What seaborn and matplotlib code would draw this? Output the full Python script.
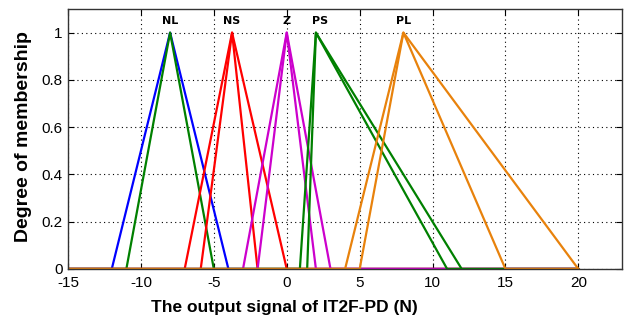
import numpy as np
import pandas as pd
import matplotlib
matplotlib.use("Agg")
import matplotlib.pyplot as plt
import seaborn as sns

# Fuzzy sets: (left foot, peak, right foot) for upper and lower MFs
labels = ["NL", "NS", "Z", "PS", "PL"]
upper_left = [-12, -7, -3, 0.9, 4]
upper_peak = [-8, -3.75, 0, 2, 8]
upper_right = [-4, 0, 3, 12, 20]
lower_left = [-11, -5.9, -2, 1.4, 5]
lower_peak = [-8, -3.75, 0, 2, 8]
lower_right = [-5, -2, 2, 11, 15]
upper_colors = ["#0000ff", "#ff0000", "#cc00cc", "#008000", "#e8820c"]
lower_colors = ["#008000", "#ff0000", "#cc00cc", "#008000", "#e8820c"]
label_x = [-8, -3.75, 0, 2.3, 8]
x_min, x_max = -15, 20

sns.set_style("white")
plt.rcParams['font.family'] = ['Liberation Sans', 'DejaVu Sans']
plt.rcParams['text.color'] = 'black'
plt.rcParams['axes.labelcolor'] = 'black'
plt.rcParams['xtick.color'] = 'black'
plt.rcParams['ytick.color'] = 'black'
plt.rcParams['axes.unicode_minus'] = False

fig = plt.figure(figsize=(6.24, 3.21), dpi=100)
ax = fig.add_axes([0.109, 0.162, 0.888, 0.81])

for i in range(len(labels)):
    for (l, p, r, c) in [(upper_left[i], upper_peak[i], upper_right[i], upper_colors[i]),
                         (lower_left[i], lower_peak[i], lower_right[i], lower_colors[i])]:
        df = pd.DataFrame({"x": [x_min, l, p, r, x_max], "y": [0, 0, 1, 0, 0]})
        sns.lineplot(data=df, x="x", y="y", ax=ax, color=c, linewidth=1.6,
                     sort=False, estimator=None)
    ax.text(label_x[i], 1.05, labels[i], ha="center", va="center",
            fontsize=8, fontweight="bold", family=['DejaVu Sans'])

ax.set_xlim(-15, 23)
ax.set_ylim(0, 1.1)
ax.set_xticks(np.arange(-15, 21, 5))
ax.set_yticks([0, 0.2, 0.4, 0.6, 0.8, 1])
ax.set_yticklabels(["0", "0.2", "0.4", "0.6", "0.8", "1"])
ax.grid(True, linestyle=(0, (1, 3)), color="black", linewidth=0.8)
ax.tick_params(direction="in", labelsize=11, length=4, top=True, right=True,
               bottom=True, left=True)
ax.tick_params(axis="x", pad=5)
ax.tick_params(axis="y", pad=4)
for s in ax.spines.values():
    s.set_color("#333333")
    s.set_linewidth(1)
ax.set_xlabel("The output signal of IT2F-PD (N)", fontsize=12.5, fontweight="bold",
              x=0.39, labelpad=7)
ax.set_ylabel("Degree of membership", fontsize=14, fontweight="bold",
              y=0.51, labelpad=7)

fig.savefig("out.png", dpi=100)
